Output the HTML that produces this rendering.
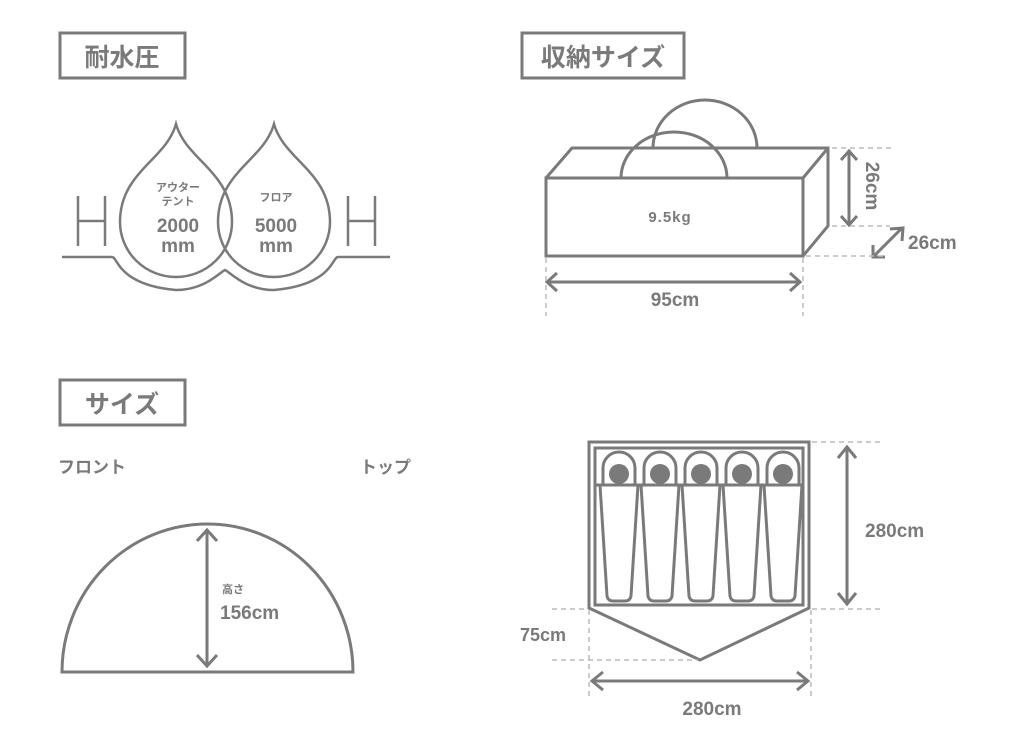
<!DOCTYPE html>
<html><head><meta charset="utf-8"><style>
html,body{margin:0;padding:0;background:#fff;}
svg{display:block;}
text{font-family:"Liberation Sans","Noto Sans CJK JP",sans-serif;fill:#7a7a7a;font-weight:bold;}
</style></head><body>
<svg width="1010" height="749" viewBox="0 0 1010 749" xmlns="http://www.w3.org/2000/svg">
<g fill="none" stroke="#7a7a7a" stroke-width="3">
<rect x="60" y="33" width="125" height="45"/>
<rect x="522" y="33" width="162" height="45"/>
<rect x="60" y="380" width="125" height="45"/>
</g>
<text x="122" y="66" font-size="25" text-anchor="middle">耐水圧</text>
<text x="603" y="66" font-size="25" text-anchor="middle">収納サイズ</text>
<text x="122" y="413" font-size="25" text-anchor="middle">サイズ</text>

<g fill="none" stroke="#7a7a7a" stroke-width="2.5">
<path d="M176,124 C186,160 232,172 232,222 A56,55 0 0 1 120,222 C120,172 166,160 176,124 Z"/>
<path d="M274,124 C284,160 330,172 330,222 A56,55 0 0 1 218,222 C218,172 264,160 274,124 Z"/>
<path d="M62,257 L112,257 C118,257 118,285 176,290 C205,290 220,272 225,270 C230,272 245,290 274,290 C332,285 332,257 338,257 L390,257"/>
<path d="M78,196 V246 M105,196 V246 M78,221 H105"/>
<path d="M348,196 V246 M375,196 V246 M348,221 H375"/>
</g>
<text x="178" y="191" font-size="11" text-anchor="middle" font-weight="normal">アウター</text>
<text x="178" y="205" font-size="11" text-anchor="middle" font-weight="normal">テント</text>
<text x="178" y="232" font-size="19" text-anchor="middle">2000</text>
<text x="178" y="252" font-size="19" text-anchor="middle">mm</text>
<text x="276" y="201" font-size="11" text-anchor="middle" font-weight="normal">フロア</text>
<text x="276" y="232" font-size="19" text-anchor="middle">5000</text>
<text x="276" y="252" font-size="19" text-anchor="middle">mm</text>

<g fill="none" stroke="#7a7a7a" stroke-width="3">
<path d="M653,148 A52,48 0 0 1 757,148"/>
<path d="M621,178 A53,46 0 0 1 727,178"/>
<rect x="546" y="178" width="257" height="78"/>
<path d="M546,178 L572,148 L828,148 L828,226 L803,256 M803,178 L828,148"/>
<path d="M849,152 V224 M841,160 L849,151 L857,160 M841,216 L849,225 L857,216"/>
<path d="M873,257 L902,228 M890,229 L903,228 L902,241 M873,245 L873,257 L885,257"/>
<path d="M548,282 H800 M557,273 L547,282 L557,291 M790,273 L800,282 L790,291"/>
</g>
<g fill="none" stroke="#bbb" stroke-width="1.5" stroke-dasharray="5,4">
<path d="M832,148 H895 M832,226 H890 M806,256 H885 M546,258 V316 M803,258 V316"/>
</g>
<text x="670" y="222" font-size="15" text-anchor="middle" letter-spacing="1">9.5kg</text>
<text transform="translate(866,186) rotate(90)" font-size="19" text-anchor="middle">26cm</text>
<text x="908" y="249" font-size="19">26cm</text>
<text x="675" y="306" font-size="19" text-anchor="middle">95cm</text>

<text x="58" y="473" font-size="17">フロント</text>
<text x="360" y="473" font-size="17">トップ</text>
<g fill="none" stroke="#7a7a7a" stroke-width="3">
<path d="M62,672 A145.5,148 0 0 1 353,672 Z"/>
<path d="M207,530 V666 M197,541 L207,530 L217,541 M197,655 L207,666 L217,655"/>
</g>
<text x="222" y="593" font-size="11" font-weight="normal">高さ</text>
<text x="220" y="619" font-size="19">156cm</text>

<g fill="none" stroke="#7a7a7a" stroke-width="3">
<path d="M589,442 H809 V608 L700,660 L589,608 Z"/>
<rect x="595" y="448" width="208" height="157"/>
<path d="M595,485 H803"/>
<g id="b">
<path d="M603,485 V468 A16,16 0 0 1 635,468 V485"/>
<path d="M600,485 L607,596 Q608,601 613,601 H625 Q630,601 631,596 L638,485"/>
</g>
<use href="#b" x="41"/><use href="#b" x="82"/><use href="#b" x="123"/><use href="#b" x="164"/>
<path d="M847,448 V603 M838,458 L847,447 L856,458 M838,593 L847,604 L856,593"/>
<path d="M593,681 H807 M603,672 L592,681 L603,690 M797,672 L808,681 L797,690"/>
</g>
<g fill="#7a7a7a">
<circle cx="619" cy="474" r="10"/><circle cx="660" cy="474" r="10"/><circle cx="701" cy="474" r="10"/><circle cx="742" cy="474" r="10"/><circle cx="783" cy="474" r="10"/>
</g>
<g fill="none" stroke="#bbb" stroke-width="1.5" stroke-dasharray="5,4">
<path d="M812,442 H880 M552,609 H588 M812,609 H880 M552,660 H698 M589,610 V696 M811,610 V696"/>
</g>
<text x="865" y="537" font-size="19">280cm</text>
<text x="520" y="641" font-size="18">75cm</text>
<text x="712" y="715" font-size="19" text-anchor="middle">280cm</text>
</svg>
</body></html>
